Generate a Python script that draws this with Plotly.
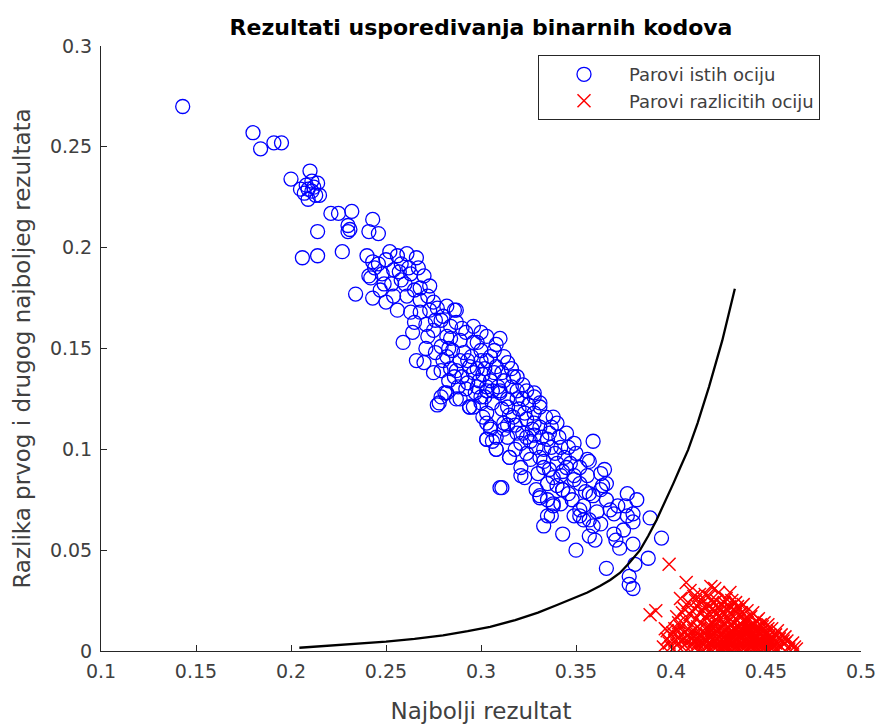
import plotly.graph_objects as go

# Same-eye pairs: (best score, gap between best and second best)
same_eye = [
    (0.143, 0.270), (0.180, 0.257), (0.184, 0.249), (0.191, 0.252), (0.195, 0.252),
    (0.200, 0.234), (0.205, 0.229), (0.207, 0.227), (0.209, 0.224), (0.210, 0.238),
    (0.211, 0.233), (0.212, 0.230), (0.209, 0.229), (0.213, 0.226), (0.211, 0.228),
    (0.214, 0.232), (0.208, 0.231), (0.215, 0.226), (0.214, 0.208), (0.221, 0.217),
    (0.225, 0.217), (0.232, 0.218), (0.230, 0.211), (0.231, 0.209), (0.241, 0.208),
    (0.246, 0.207), (0.243, 0.214), (0.206, 0.195), (0.214, 0.196), (0.227, 0.198),
    (0.234, 0.177), (0.243, 0.175), (0.230, 0.208),
    (0.240, 0.196), (0.243, 0.193), (0.246, 0.192), (0.250, 0.194), (0.256, 0.196),
    (0.266, 0.195), (0.241, 0.186), (0.248, 0.187), (0.254, 0.189), (0.242, 0.185),
    (0.249, 0.182), (0.250, 0.173), (0.254, 0.176), (0.256, 0.169), (0.258, 0.184),
    (0.263, 0.187), (0.270, 0.186), (0.273, 0.181), (0.265, 0.179), (0.261, 0.176),
    (0.268, 0.174), (0.275, 0.173), (0.265, 0.163), (0.259, 0.153), (0.275, 0.159),
    (0.280, 0.166), (0.286, 0.169), (0.287, 0.163), (0.282, 0.156), (0.266, 0.144),
    (0.270, 0.143), (0.275, 0.138), (0.278, 0.123), (0.282, 0.128), (0.289, 0.125),
    (0.294, 0.121), (0.286, 0.136), (0.293, 0.144), (0.298, 0.153), (0.300, 0.158),
    (0.310, 0.155), (0.303, 0.144), (0.307, 0.138), (0.314, 0.143), (0.317, 0.136),
    (0.310, 0.129), (0.303, 0.129), (0.300, 0.123), (0.303, 0.113), (0.303, 0.105),
    (0.308, 0.100), (0.310, 0.081), (0.315, 0.096), (0.321, 0.087), (0.324, 0.106),
    (0.328, 0.113), (0.331, 0.123), (0.328, 0.126), (0.324, 0.129), (0.319, 0.125),
    (0.333, 0.091), (0.331, 0.077),
    (0.252, 0.198), (0.258, 0.192), (0.261, 0.197), (0.262, 0.190), (0.257, 0.188),
    (0.247, 0.179), (0.253, 0.182), (0.244, 0.190), (0.260, 0.182), (0.268, 0.180),
    (0.263, 0.168), (0.271, 0.162), (0.268, 0.168), (0.273, 0.169), (0.282, 0.171),
    (0.287, 0.169), (0.279, 0.164), (0.284, 0.161), (0.292, 0.158), (0.296, 0.153),
    (0.285, 0.149), (0.289, 0.154), (0.272, 0.156), (0.279, 0.151), (0.282, 0.146),
    (0.289, 0.144), (0.287, 0.139), (0.293, 0.133), (0.296, 0.138), (0.300, 0.144),
    (0.303, 0.156), (0.307, 0.149), (0.308, 0.141), (0.279, 0.126), (0.277, 0.122),
    (0.287, 0.125), (0.294, 0.121), (0.300, 0.126), (0.303, 0.118), (0.305, 0.111),
    (0.303, 0.105), (0.308, 0.106), (0.312, 0.110), (0.314, 0.125), (0.312, 0.134),
    (0.281, 0.128), (0.296, 0.121), (0.301, 0.116), (0.305, 0.110), (0.306, 0.104),
    (0.308, 0.100), (0.315, 0.096), (0.321, 0.091), (0.323, 0.086), (0.311, 0.081),
    (0.331, 0.076), (0.338, 0.072), (0.337, 0.067), (0.333, 0.062), (0.343, 0.080),
    (0.359, 0.104), (0.356, 0.095), (0.350, 0.098), (0.345, 0.091), (0.349, 0.087),
    (0.356, 0.087), (0.363, 0.088), (0.364, 0.082), (0.359, 0.077), (0.354, 0.072),
    (0.352, 0.067), (0.357, 0.065), (0.363, 0.063), (0.342, 0.101), (0.336, 0.108),
    (0.340, 0.113), (0.331, 0.111), (0.328, 0.118), (0.322, 0.125), (0.319, 0.129),
    (0.328, 0.128), (0.331, 0.121), (0.338, 0.116), (0.345, 0.108), (0.349, 0.103),
    (0.321, 0.103), (0.324, 0.098), (0.314, 0.106), (0.312, 0.113), (0.314, 0.121),
    (0.317, 0.116), (0.310, 0.128), (0.303, 0.131), (0.335, 0.105), (0.331, 0.096),
    (0.340, 0.093), (0.336, 0.090), (0.342, 0.087), (0.335, 0.083), (0.329, 0.080),
    (0.357, 0.094), (0.365, 0.090), (0.366, 0.083), (0.377, 0.078), (0.382, 0.075),
    (0.389, 0.066), (0.395, 0.056), (0.388, 0.046), (0.381, 0.043), (0.378, 0.037),
    (0.378, 0.033), (0.380, 0.031), (0.366, 0.041), (0.350, 0.050), (0.343, 0.058),
    (0.335, 0.067), (0.335, 0.075), (0.338, 0.073), (0.349, 0.067), (0.354, 0.065),
    (0.359, 0.062), (0.357, 0.057), (0.370, 0.058), (0.371, 0.055), (0.373, 0.051),
    (0.380, 0.053), (0.375, 0.060), (0.370, 0.068), (0.377, 0.067), (0.380, 0.068),
    (0.366, 0.075), (0.357, 0.078), (0.352, 0.070), (0.342, 0.073), (0.343, 0.080),
    (0.349, 0.085), (0.363, 0.080), (0.372, 0.072), (0.360, 0.055), (0.380, 0.064),
    (0.376, 0.072), (0.368, 0.070), (0.361, 0.069), (0.346, 0.078), (0.340, 0.082),
    (0.295, 0.146), (0.298, 0.140), (0.301, 0.137), (0.305, 0.134), (0.309, 0.131),
    (0.298, 0.131), (0.302, 0.126), (0.306, 0.123), (0.311, 0.120), (0.315, 0.117),
    (0.318, 0.112), (0.322, 0.108), (0.326, 0.104), (0.320, 0.120), (0.324, 0.115),
    (0.327, 0.110), (0.332, 0.106), (0.329, 0.101), (0.326, 0.095), (0.318, 0.100),
    (0.316, 0.131), (0.319, 0.136), (0.322, 0.132), (0.325, 0.122), (0.334, 0.116),
    (0.337, 0.111), (0.341, 0.106), (0.339, 0.098), (0.344, 0.096), (0.347, 0.093),
    (0.352, 0.091), (0.346, 0.101), (0.352, 0.083), (0.355, 0.079), (0.348, 0.075),
    (0.291, 0.148), (0.294, 0.141), (0.290, 0.136), (0.297, 0.128), (0.292, 0.130),
    (0.284, 0.140), (0.280, 0.144), (0.276, 0.148), (0.284, 0.155), (0.290, 0.160),
    (0.296, 0.161), (0.300, 0.149), (0.305, 0.146), (0.308, 0.152), (0.312, 0.146),
    (0.316, 0.140), (0.311, 0.138), (0.299, 0.134), (0.302, 0.140), (0.306, 0.129),
    (0.319, 0.108), (0.314, 0.112), (0.323, 0.118), (0.328, 0.107), (0.333, 0.100),
    (0.337, 0.101), (0.343, 0.089), (0.333, 0.094), (0.330, 0.088), (0.338, 0.086),
    (0.267, 0.190), (0.272, 0.176), (0.277, 0.170), (0.271, 0.150), (0.264, 0.158),
    (0.276, 0.164), (0.283, 0.150), (0.288, 0.131), (0.283, 0.134), (0.279, 0.139),
]

# Different-eye pairs
diff_eye = [
    (0.399, 0.043), (0.392, 0.020), (0.389, 0.018), (0.401, 0.009), (0.397, 0.011),
    (0.408, 0.034), (0.410, 0.030), (0.421, 0.032), (0.423, 0.031), (0.425, 0.029),
    (0.418, 0.028), (0.431, 0.029), (0.405, 0.026), (0.409, 0.024), (0.412, 0.027),
    (0.414, 0.022), (0.416, 0.025), (0.419, 0.023), (0.420, 0.027), (0.422, 0.021),
    (0.424, 0.025), (0.427, 0.023), (0.429, 0.026), (0.431, 0.022), (0.434, 0.024),
    (0.436, 0.021), (0.438, 0.023), (0.440, 0.020), (0.426, 0.020), (0.417, 0.020),
    (0.403, 0.017), (0.406, 0.019), (0.408, 0.015), (0.410, 0.018), (0.411, 0.013),
    (0.413, 0.016), (0.415, 0.019), (0.416, 0.014), (0.418, 0.017), (0.420, 0.013),
    (0.421, 0.018), (0.423, 0.015), (0.424, 0.019), (0.426, 0.016), (0.427, 0.013),
    (0.428, 0.018), (0.430, 0.015), (0.431, 0.019), (0.432, 0.013), (0.433, 0.017),
    (0.435, 0.015), (0.436, 0.018), (0.437, 0.013), (0.439, 0.016), (0.440, 0.014),
    (0.442, 0.017), (0.443, 0.013), (0.445, 0.015), (0.447, 0.013), (0.448, 0.012),
    (0.445, 0.011), (0.434, 0.020), (0.429, 0.021), (0.419, 0.012), (0.414, 0.012),
    (0.398, 0.010), (0.400, 0.008), (0.402, 0.011), (0.404, 0.007), (0.405, 0.012),
    (0.407, 0.009), (0.409, 0.011), (0.410, 0.007), (0.412, 0.010), (0.413, 0.008),
    (0.415, 0.011), (0.416, 0.007), (0.417, 0.009), (0.419, 0.010), (0.420, 0.007),
    (0.421, 0.011), (0.422, 0.008), (0.424, 0.010), (0.425, 0.007), (0.426, 0.011),
    (0.427, 0.009), (0.428, 0.007), (0.429, 0.010), (0.430, 0.012), (0.431, 0.008),
    (0.432, 0.010), (0.433, 0.007), (0.434, 0.011), (0.435, 0.009), (0.436, 0.007),
    (0.437, 0.010), (0.438, 0.008), (0.439, 0.011), (0.440, 0.009), (0.441, 0.007),
    (0.442, 0.010), (0.443, 0.008), (0.444, 0.011), (0.445, 0.007), (0.446, 0.009),
    (0.447, 0.008), (0.448, 0.010), (0.449, 0.007), (0.450, 0.009), (0.451, 0.011),
    (0.452, 0.008), (0.453, 0.007), (0.455, 0.008), (0.457, 0.006), (0.423, 0.012),
    (0.418, 0.006), (0.411, 0.006),
    (0.396, 0.002), (0.399, 0.004), (0.401, 0.001), (0.403, 0.003), (0.405, 0.005),
    (0.406, 0.002), (0.408, 0.004), (0.409, 0.001), (0.411, 0.003), (0.412, 0.005),
    (0.413, 0.002), (0.414, 0.004), (0.415, 0.001), (0.417, 0.003), (0.418, 0.005),
    (0.419, 0.002), (0.420, 0.004), (0.421, 0.001), (0.422, 0.003), (0.423, 0.005),
    (0.424, 0.002), (0.425, 0.004), (0.426, 0.001), (0.427, 0.003), (0.428, 0.005),
    (0.429, 0.002), (0.430, 0.004), (0.431, 0.001), (0.432, 0.003), (0.433, 0.005),
    (0.434, 0.002), (0.435, 0.004), (0.436, 0.001), (0.437, 0.003), (0.438, 0.005),
    (0.439, 0.002), (0.440, 0.004), (0.441, 0.001), (0.442, 0.003), (0.443, 0.005),
    (0.444, 0.002), (0.445, 0.004), (0.446, 0.001), (0.447, 0.003), (0.448, 0.005),
    (0.449, 0.002), (0.450, 0.004), (0.451, 0.001), (0.452, 0.003), (0.453, 0.005),
    (0.454, 0.002), (0.455, 0.004), (0.456, 0.001), (0.457, 0.003), (0.458, 0.002),
    (0.460, 0.004), (0.462, 0.001), (0.463, 0.003), (0.465, 0.002), (0.459, 0.005),
    (0.432, 0.000), (0.440, 0.000), (0.447, 0.000), (0.425, 0.000), (0.417, 0.000),
    (0.428, 0.013), (0.433, 0.011), (0.437, 0.006), (0.441, 0.012), (0.444, 0.006),
    (0.449, 0.004), (0.454, 0.006), (0.434, 0.006), (0.429, 0.006), (0.426, 0.005),
    (0.404, 0.014), (0.407, 0.021), (0.411, 0.020), (0.413, 0.025), (0.415, 0.028),
    (0.418, 0.022), (0.420, 0.019), (0.422, 0.024), (0.425, 0.022), (0.428, 0.024),
    (0.430, 0.020), (0.432, 0.025), (0.435, 0.022), (0.437, 0.019), (0.441, 0.016),
    (0.443, 0.019), (0.446, 0.016), (0.449, 0.014), (0.451, 0.013), (0.453, 0.011),
    (0.456, 0.010), (0.458, 0.008), (0.460, 0.007), (0.461, 0.005), (0.464, 0.004),
    (0.466, 0.001), (0.426, 0.008), (0.428, 0.010), (0.431, 0.006), (0.433, 0.009),
    (0.435, 0.006), (0.437, 0.008), (0.439, 0.005), (0.441, 0.010), (0.443, 0.006),
    (0.444, 0.008), (0.446, 0.005), (0.448, 0.007), (0.450, 0.006), (0.452, 0.005),
    (0.435, 0.002), (0.438, 0.001), (0.442, 0.002), (0.445, 0.002), (0.450, 0.002),
    (0.453, 0.001), (0.430, 0.002), (0.427, 0.001), (0.422, 0.006), (0.419, 0.008),
    (0.416, 0.004), (0.413, 0.006), (0.410, 0.009), (0.407, 0.006), (0.404, 0.010),
    (0.402, 0.005), (0.400, 0.002), (0.398, 0.006), (0.433, 0.014), (0.438, 0.015),
    (0.436, 0.012), (0.441, 0.011), (0.444, 0.013), (0.430, 0.017), (0.425, 0.017),
    (0.422, 0.014),
]

# Decision boundary
curve_x = [0.2044, 0.225, 0.25, 0.265, 0.28, 0.293, 0.3048, 0.318, 0.33, 0.34,
           0.3486, 0.356, 0.3626, 0.368, 0.3731, 0.378, 0.3837, 0.388, 0.3924,
           0.397, 0.4012, 0.405, 0.409, 0.414, 0.420, 0.427, 0.4336]
curve_y = [0.0016, 0.0028, 0.0046, 0.0060, 0.0078, 0.0098, 0.0120, 0.0153, 0.0190,
           0.0228, 0.0261, 0.0290, 0.0322, 0.0352, 0.0387, 0.0436, 0.0500, 0.0570,
           0.0650, 0.0740, 0.0830, 0.0912, 0.0997, 0.1130, 0.1310, 0.1540, 0.1796]

same_x = [p[0] for p in same_eye]
same_y = [p[1] for p in same_eye]
diff_x = [p[0] for p in diff_eye]
diff_y = [p[1] for p in diff_eye]

x_ticks = [0.1, 0.15, 0.2, 0.25, 0.3, 0.35, 0.4, 0.45, 0.5]
y_ticks = [0, 0.05, 0.1, 0.15, 0.2, 0.25, 0.3]

FONT = "DejaVu Sans, Liberation Sans, sans-serif"
AXIS_COLOR = "#262626"
TEXT_COLOR = "#404040"

fig = go.Figure()
fig.add_trace(go.Scatter(
    x=same_x, y=same_y, mode="markers", name="Parovi istih ociju",
    marker=dict(symbol="circle-open", size=14, color="#0000ff",
                line=dict(width=1.3, color="#0000ff")),
))
fig.add_trace(go.Scatter(
    x=diff_x, y=diff_y, mode="markers", name="Parovi razlicitih ociju",
    marker=dict(symbol="x-thin-open", size=13, color="#ff0000",
                line=dict(width=1.5, color="#ff0000")),
))
fig.add_trace(go.Scatter(
    x=curve_x, y=curve_y, mode="lines", showlegend=False,
    line=dict(color="black", width=2.3),
))

axis_common = dict(
    showgrid=False, zeroline=False, showline=True, linecolor=AXIS_COLOR,
    linewidth=1, ticks="inside", ticklen=6, tickcolor=AXIS_COLOR,
    tickfont=dict(family=FONT, size=19, color=TEXT_COLOR), mirror=False,
    automargin=False,
)

fig.update_layout(
    width=881, height=724,
    margin=dict(l=101, r=20, t=46, b=73),
    paper_bgcolor="white", plot_bgcolor="white",
    title=dict(text="<b>Rezultati usporedivanja binarnih kodova</b>",
               x=(101 + 861) / 2 / 881, xanchor="center",
               y=1 - 27 / 724, yanchor="middle", yref="container",
               font=dict(family=FONT, size=22, color="black")),
    xaxis=dict(range=[0.1, 0.5], tickvals=x_ticks,
               ticktext=[f"{v:g}" for v in x_ticks], ticklabelstandoff=3,
               title=dict(text="Najbolji rezultat", standoff=22,
                          font=dict(family=FONT, size=23, color=TEXT_COLOR)),
               **axis_common),
    yaxis=dict(range=[0, 0.3], tickvals=y_ticks,
               ticktext=[f"{v:g}" for v in y_ticks], ticklabelstandoff=4,
               title=dict(text="Razlika prvog i drugog najboljeg rezultata", standoff=12,
                          font=dict(family=FONT, size=23, color=TEXT_COLOR)),
               **axis_common),
    legend=dict(x=(820 - 101) / 760, xanchor="right", y=0.985, yanchor="top",
                bgcolor="white", bordercolor=AXIS_COLOR, borderwidth=1,
                font=dict(family=FONT, size=18, color=TEXT_COLOR),
                itemwidth=80),
    showlegend=True,
)

fig.write_html("out.html")
